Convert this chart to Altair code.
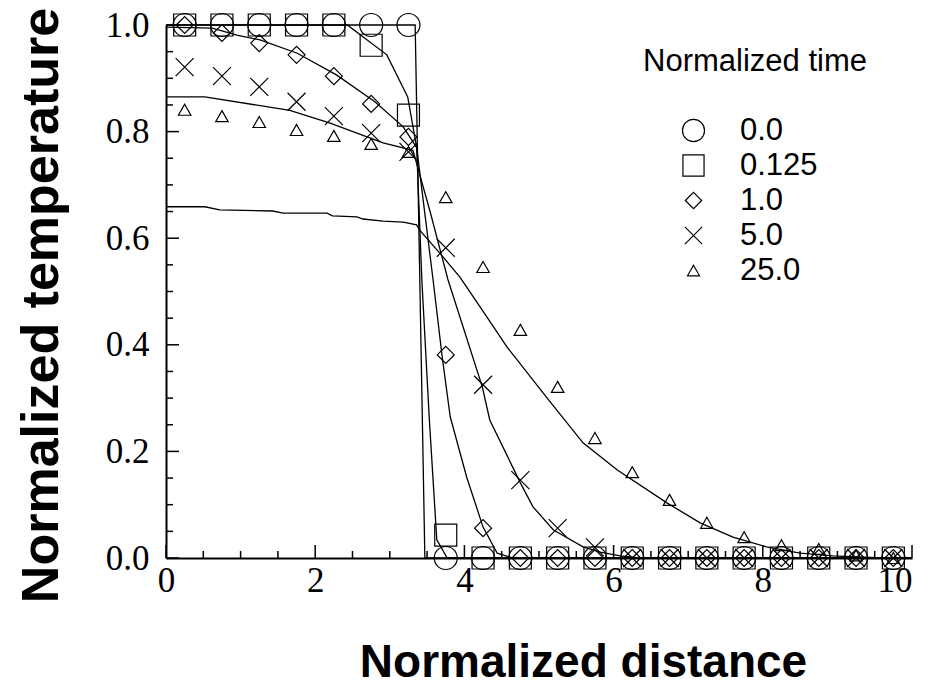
import altair as alt
import pandas as pd

series = ["0.0", "0.125", "1.0", "5.0", "25.0"]

# ---- marker data (symbols) ----
marker_x = [0.25, 0.75, 1.25, 1.75, 2.25, 2.75, 3.25, 3.75, 4.25, 4.75,
            5.25, 5.75, 6.25, 6.75, 7.25, 7.75, 8.25, 8.75, 9.25, 9.75]
m_t0 = [1, 1, 1, 1, 1, 1, 1, 0, 0, 0, 0, 0, 0, 0, 0, 0, 0, 0, 0, 0]
m_t0125 = [1, 1, 1, 1, 1, 0.962, 0.831, 0.043, 0, 0, 0, 0, 0, 0, 0, 0, 0, 0, 0, 0]
m_t1 = [1.0, 0.985, 0.966, 0.944, 0.904, 0.852, 0.79, 0.381, 0.056, 0, 0, 0, 0, 0, 0, 0, 0, 0, 0, 0]
m_t5 = [0.921, 0.904, 0.884, 0.856, 0.829, 0.797, 0.762, 0.582, 0.325, 0.146,
        0.056, 0.02, 0, 0, 0, 0, 0, 0, 0, 0]
m_t25 = [0.841, 0.829, 0.818, 0.803, 0.792, 0.777, 0.762, 0.677, 0.546, 0.428,
         0.321, 0.225, 0.161, 0.109, 0.066, 0.039, 0.024, 0.017, 0.005, 0]

# ---- model curves (lines) ----
l_t0_x = [0, 3.34, 3.47, 10]
l_t0_y = [1, 1, 0, 0]
l_t0125_x = [0, 2.43, 2.96, 3.24, 3.36, 3.43, 3.53, 3.63, 3.77, 10]
l_t0125_y = [1, 1, 0.944, 0.865, 0.77, 0.52, 0.26, 0.034, 0, 0]
l_t1_x = [0, 0.62, 0.95, 1.26, 1.76, 2.29, 2.8, 3.18, 3.36, 3.58, 3.70, 3.81, 4.03, 4.25, 4.44, 4.65, 10]
l_t1_y = [0.996, 0.994, 0.981, 0.972, 0.947, 0.906, 0.856, 0.809, 0.77, 0.522, 0.38, 0.265, 0.152, 0.058, 0.009, 0, 0]
l_t5_x = [0, 0.52, 1.66, 2.2, 2.91, 3.31, 3.54, 3.78, 4.24, 4.34, 4.75, 4.92, 5.19, 5.59, 5.82, 6.09, 6.35, 10]
l_t5_y = [0.865, 0.865, 0.84, 0.816, 0.779, 0.765, 0.65, 0.522, 0.321, 0.259, 0.141, 0.096, 0.053, 0.021, 0.011, 0.004, 0, 0]
l_t25_x = [0, 0.52, 0.72, 1.43, 1.57, 2.16, 2.23, 2.56, 2.64, 2.91, 3.18, 3.36, 3.40, 3.67, 3.94,
           4.21, 4.57, 5.11, 5.59, 6.05, 6.72, 7.16, 7.60, 8.05, 8.50, 8.94, 9.6, 10]
l_t25_y = [0.659, 0.659, 0.653, 0.651, 0.647, 0.647, 0.642, 0.64, 0.636, 0.632, 0.63, 0.625, 0.615, 0.572, 0.527,
           0.471, 0.396, 0.3, 0.216, 0.165, 0.103, 0.066, 0.039, 0.021, 0.009, 0.004, 0, 0]

# ---- axis ticks ----
x_major = [0, 2, 4, 6, 8, 10]
x_minor = [0.5, 1, 1.5, 2.5, 3, 3.5, 4.5, 5, 5.5, 6.5, 7, 7.5, 8.5, 9, 9.5]
y_major = [0, 0.2, 0.4, 0.6, 0.8, 1.0]
y_minor = [0.05, 0.1, 0.15, 0.25, 0.3, 0.35, 0.45, 0.5, 0.55, 0.65, 0.7, 0.75, 0.85, 0.9, 0.95]

# symbol outlines (open circle, square, diamond, x, triangle), each at its own size
shape_range = [
    "M-2.3,0A2.3,2.3,0,1,1,2.3,0A2.3,2.3,0,1,1,-2.3,0Z",
    "M-2.2,-2.2L2.2,-2.2L2.2,2.2L-2.2,2.2Z",
    "M-1.7,0L0,-1.7L1.7,0L0,1.7Z",
    "M-1.8,-1.8L1.8,1.8M-1.8,1.8L1.8,-1.8",
    "M0,-1.1L1.25,1.1L-1.25,1.1Z",
]

# ---- build tables ----
marker_sets = [m_t0, m_t0125, m_t1, m_t5, m_t25]
pts = []
for s, vals in zip(series, marker_sets):
    for xv, yv in zip(marker_x, vals):
        pts.append({"x": xv, "y": yv, "time": s})
pt_df = pd.DataFrame(pts)

line_sets = [(l_t0_x, l_t0_y), (l_t0125_x, l_t0125_y), (l_t1_x, l_t1_y),
             (l_t5_x, l_t5_y), (l_t25_x, l_t25_y)]
rows = []
for s, (xs_, ys_) in zip(series, line_sets):
    for i, (xv, yv) in enumerate(zip(xs_, ys_)):
        rows.append({"x": xv, "y": yv, "series": s, "i": i})
line_df = pd.DataFrame(rows)

W, H = 746, 533
xs = alt.Scale(domain=[0, 10], nice=False, zero=False)
ys = alt.Scale(domain=[0, 1], nice=False, zero=False)

xaxis = alt.Axis(values=x_major, format="d", ticks=False, tickSize=0, grid=False,
                 domainColor="black", domainWidth=2,
                 labelFont="Liberation Serif", labelFontSize=35, labelColor="black",
                 labelPadding=5, labelFlush=False, labelOverlap=False,
                 labelAlign={"expr": "datum.value == 10 ? 'right' : 'center'"},
                 title="Normalized distance", titleFont="Liberation Sans", titleFontSize=46,
                 titleFontWeight="bold", titleColor="black", titleX=417, titleY=118,
                 titleAlign="center", titleBaseline="alphabetic")
yaxis = alt.Axis(values=y_major, format=".1f", ticks=False, tickSize=0, grid=False,
                 domainColor="black", domainWidth=2,
                 labelFont="Liberation Serif", labelFontSize=35, labelColor="black",
                 labelPadding=17, labelFlush=False, labelOverlap=False,
                 title="Normalized temperature", titleFont="Liberation Sans", titleFontSize=52,
                 titleFontWeight="bold", titleColor="black", titleX=-125, titleY=280,
                 titleAngle=270, titleAlign="center", titleBaseline="middle")

lines = alt.Chart(line_df).mark_line(color="black", strokeWidth=1.3).encode(
    x=alt.X("x:Q", scale=xs, axis=xaxis),
    y=alt.Y("y:Q", scale=ys, axis=yaxis),
    detail="series:N",
    order="i:Q",
)

legend = alt.Legend(title="Normalized time", orient="none", legendX=477, legendY=22,
                    titleFont="Liberation Sans", titleFontSize=31, titleFontWeight="normal",
                    titleColor="black", titlePadding=37, titleLimit=500, padding=0,
                    labelFont="Liberation Sans", labelFontSize=31, labelColor="black",
                    labelLimit=300, labelOffset=31, symbolOffset=35, rowPadding=3,
                    symbolSize=92,
                    symbolStrokeColor="black", symbolStrokeWidth=1.2)

points = alt.Chart(pt_df).mark_point(filled=False, color="black", strokeWidth=1.2,
                                     opacity=1, size=100).encode(
    x=alt.X("x:Q", scale=xs),
    y=alt.Y("y:Q", scale=ys),
    shape=alt.Shape("time:N", sort=series, scale=alt.Scale(domain=series, range=shape_range), legend=legend),
)

def xticks(vals, length):
    return alt.Chart(pd.DataFrame({"x": vals})).mark_rule(color="black", strokeWidth=1.5).encode(
        x=alt.X("x:Q", scale=xs), y=alt.value(H), y2=alt.value(H - length))

def yticks(vals, length):
    return alt.Chart(pd.DataFrame({"y": vals})).mark_rule(color="black", strokeWidth=1.5).encode(
        y=alt.Y("y:Q", scale=ys), x=alt.value(0), x2=alt.value(length))

chart = alt.layer(
    lines,
    xticks(x_major, 13), xticks(x_minor, 7),
    yticks(y_major, 13), yticks(y_minor, 7),
    points,
).properties(
    width=W, height=H,
    autosize=alt.AutoSizeParams(type="none"),
    padding={"left": 166, "top": 25, "right": 14, "bottom": 127},
    background="white",
).configure_view(stroke=None)

chart.save("out.html", embed_options={"renderer": "svg", "actions": False})
